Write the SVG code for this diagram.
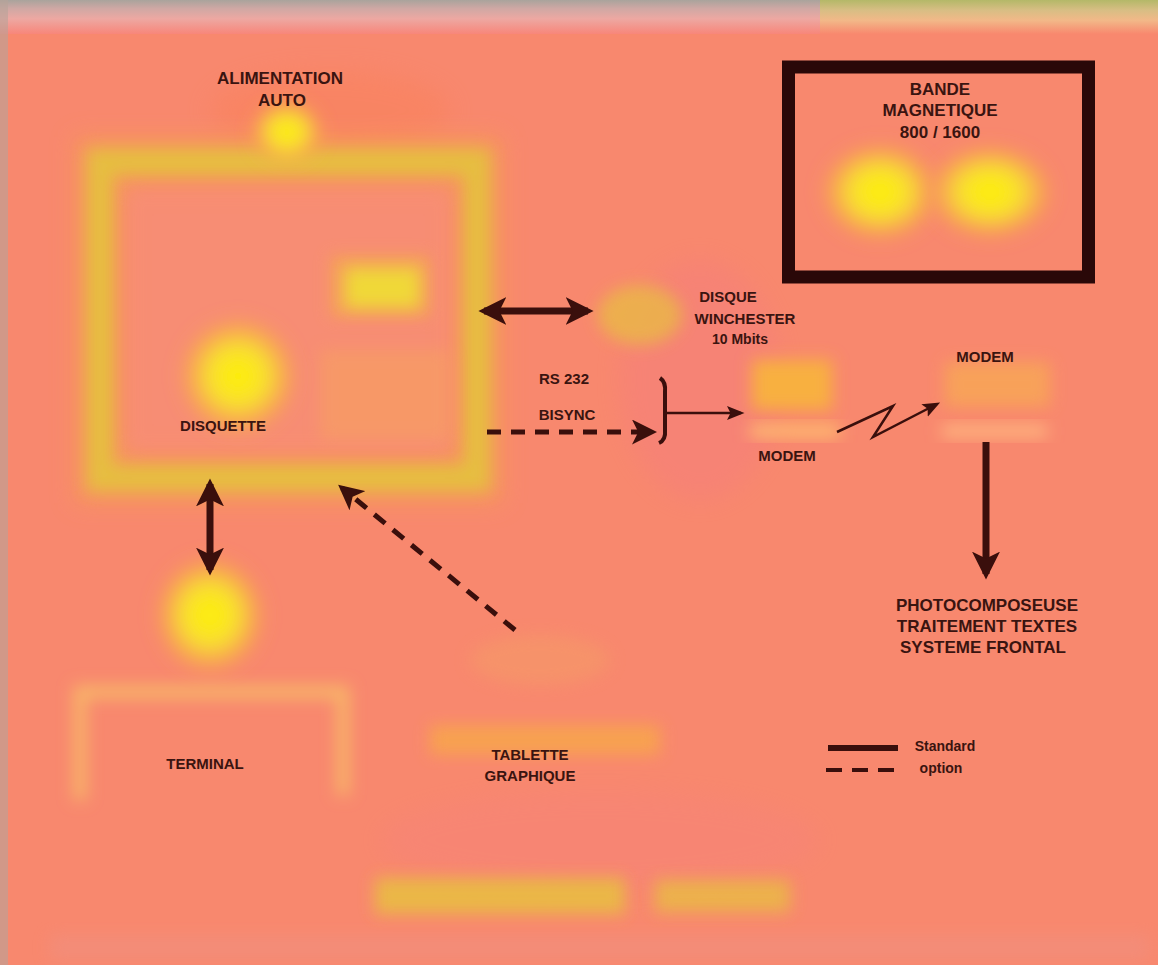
<svg xmlns="http://www.w3.org/2000/svg" width="1158" height="965" viewBox="0 0 1158 965">
  <defs>
    <filter id="soft" x="-50%" y="-50%" width="200%" height="200%">
      <feGaussianBlur stdDeviation="8"/>
    </filter>
    <filter id="softer" x="-50%" y="-50%" width="200%" height="200%">
      <feGaussianBlur stdDeviation="12"/>
    </filter>
    <radialGradient id="glow">
      <stop offset="0" stop-color="#FFF000"/>
      <stop offset="0.45" stop-color="#F8E030"/>
      <stop offset="0.75" stop-color="#F8B048" stop-opacity="0.8"/>
      <stop offset="1" stop-color="#F8A050" stop-opacity="0"/>
    </radialGradient>
    <linearGradient id="topband" x1="0" y1="0" x2="0" y2="1">
      <stop offset="0" stop-color="#A9A39C"/>
      <stop offset="0.25" stop-color="#CFA8A4"/>
      <stop offset="0.55" stop-color="#EDA8A2"/>
      <stop offset="1" stop-color="#F8867A"/>
    </linearGradient>
    <linearGradient id="topbandRight" x1="0" y1="0" x2="0" y2="1">
      <stop offset="0" stop-color="#B4B868"/>
      <stop offset="0.3" stop-color="#D8BE84"/>
      <stop offset="0.6" stop-color="#F2B888"/>
      <stop offset="1" stop-color="#F8886E"/>
    </linearGradient>
    <marker id="head" viewBox="0 0 10 10" refX="8" refY="5" markerWidth="4" markerHeight="4" orient="auto-start-reverse" markerUnits="strokeWidth">
      <path d="M0,0 L10,5 L0,10 L2.5,5 Z" fill="#3A0F0C"/>
    </marker>
    <marker id="headThin" viewBox="0 0 10 10" refX="8" refY="5" markerWidth="7" markerHeight="7" orient="auto-start-reverse" markerUnits="strokeWidth">
      <path d="M0,1 L10,5 L0,9 L2,5 Z" fill="#3A0F0C"/>
    </marker>
    <marker id="headDash" viewBox="0 0 10 10" refX="8" refY="5" markerWidth="5" markerHeight="5" orient="auto-start-reverse" markerUnits="strokeWidth">
      <path d="M0,0 L10,5 L0,10 L2.5,5 Z" fill="#3A0F0C"/>
    </marker>
  </defs>
  <style>
    text { font-family: "Liberation Sans Narrow", "Liberation Sans", Arial, sans-serif; font-weight: bold; fill: #3A1410; text-anchor: middle; }
    .lbl { font-size: 17px; }
    .sm { font-size: 15px; }
    .conn { stroke: #3A0F0C; fill: none; }
    .solid { stroke-width: 7; }
    .dash { stroke-width: 5; stroke-dasharray: 14 10; }
    .thin { stroke-width: 2.5; }
    .frame { fill: none; stroke: #E6BE40; filter: url(#soft); }
    .blob { fill: url(#glow); filter: url(#soft); }
  </style>

  <!-- paper background -->
  <rect x="0" y="0" width="1158" height="965" fill="#F8886E"/>
  <rect x="0" y="0" width="1158" height="34" fill="url(#topband)"/>
  <rect x="820" y="0" width="338" height="34" fill="url(#topbandRight)"/>
  <rect x="0" y="0" width="8" height="965" fill="#B8A49A" opacity="0.6"/>
  <ellipse cx="330" cy="110" rx="120" ry="40" fill="#FA7F55" opacity="0.4" filter="url(#softer)"/>
  <ellipse cx="700" cy="380" rx="80" ry="120" fill="#F47C80" opacity="0.4" filter="url(#softer)"/>
  <ellipse cx="600" cy="840" rx="220" ry="50" fill="#F58080" opacity="0.3" filter="url(#softer)"/>

  <!-- processor unit -->
  <g id="unite-centrale">
    <rect x="100" y="162" width="377" height="316" fill="none" stroke="#F4A050" stroke-width="50" opacity="0.6" filter="url(#softer)"/>
    <rect class="frame" x="100" y="162" width="377" height="316" stroke-width="26"/>
    <rect x="126" y="188" width="326" height="264" fill="#F7927A" opacity="0.5" filter="url(#soft)"/>
    <ellipse class="blob" cx="287" cy="132" rx="38" ry="34"/>
    <rect x="330" y="255" width="100" height="62" fill="#F4A850" opacity="0.7" filter="url(#soft)"/>
    <rect x="345" y="268" width="75" height="40" fill="#F0D838" filter="url(#soft)"/>
    <rect x="320" y="350" width="130" height="90" fill="#F7A060" opacity="0.6" filter="url(#soft)"/>
    <ellipse class="blob" cx="238" cy="376" rx="62" ry="62"/>
    <text class="lbl" x="280" y="84">ALIMENTATION</text>
    <text class="lbl" x="282" y="106">AUTO</text>
    <text class="sm" x="223" y="431">DISQUETTE</text>
  </g>

  <!-- magnetic tape -->
  <g id="bande-magnetique">
    <rect x="788.5" y="67" width="300" height="210" fill="none" stroke="#2A0808" stroke-width="13"/>
    <ellipse class="blob" cx="880" cy="192" rx="62" ry="52"/>
    <ellipse class="blob" cx="990" cy="192" rx="66" ry="50"/>
    <text class="lbl" x="940" y="95">BANDE</text>
    <text class="lbl" x="940" y="116">MAGNETIQUE</text>
    <text class="lbl" x="940" y="138">800 / 1600</text>
  </g>

  <!-- Winchester disk -->
  <g id="disque-winchester">
    <ellipse cx="640" cy="315" rx="42" ry="30" fill="#E8C040" opacity="0.7" filter="url(#soft)"/>
    <text class="sm" x="728" y="302">DISQUE</text>
    <text class="sm" x="745" y="324">WINCHESTER</text>
    <text class="sm" x="740" y="344" style="font-size:14px">10 Mbits</text>
  </g>

  <!-- local modem -->
  <g id="modem-local">
    <rect x="752" y="360" width="80" height="50" fill="#F8B040" filter="url(#soft)"/>
    <rect x="750" y="425" width="90" height="12" fill="#FFC070" filter="url(#soft)"/>
    <text class="sm" x="787" y="461">MODEM</text>
  </g>

  <!-- remote modem -->
  <g id="modem-distant">
    <rect x="945" y="362" width="105" height="45" fill="#F8A855" opacity="0.8" filter="url(#soft)"/>
    <rect x="942" y="425" width="105" height="12" fill="#FFB880" filter="url(#soft)"/>
    <text class="sm" x="985" y="362">MODEM</text>
  </g>

  <!-- typesetter -->
  <g id="photocomposeuse">
    <text class="lbl" x="987" y="611">PHOTOCOMPOSEUSE</text>
    <text class="lbl" x="987" y="632">TRAITEMENT TEXTES</text>
    <text class="lbl" x="983" y="653">SYSTEME FRONTAL</text>
  </g>

  <!-- terminal -->
  <g id="terminal">
    <ellipse class="blob" cx="210" cy="615" rx="58" ry="62"/>
    <path d="M80,800 L80,692 L343,692 L343,795" fill="none" stroke="#F8B868" stroke-width="12" filter="url(#soft)"/>
    <text class="sm" x="205" y="769">TERMINAL</text>
  </g>

  <!-- graphics tablet -->
  <g id="tablette-graphique">
    <rect x="430" y="725" width="230" height="30" fill="#F8A848" opacity="0.8" filter="url(#soft)"/>
    <ellipse cx="540" cy="660" rx="70" ry="25" fill="#F59A68" opacity="0.6" filter="url(#soft)"/>
    <text class="sm" x="530" y="760">TABLETTE</text>
    <text class="sm" x="530" y="781">GRAPHIQUE</text>
  </g>

  <!-- bottom of bench -->
  <g id="socle">
    <rect x="375" y="878" width="250" height="36" fill="#E8C040" opacity="0.85" filter="url(#soft)"/>
    <rect x="655" y="880" width="135" height="32" fill="#E8C040" opacity="0.75" filter="url(#soft)"/>
    <rect x="50" y="935" width="1100" height="25" fill="#F09080" opacity="0.6" filter="url(#soft)"/>
  </g>

  <!-- connectors -->
  <g id="connecteurs">
    <line class="conn solid" x1="484" y1="311" x2="588" y2="311" marker-start="url(#head)" marker-end="url(#head)"/>
    <line class="conn solid" x1="210" y1="484" x2="210" y2="570" marker-start="url(#head)" marker-end="url(#head)"/>
    <line class="conn dash" x1="515" y1="630" x2="342" y2="488" marker-end="url(#headDash)"/>
    <line class="conn dash" x1="487" y1="432" x2="652" y2="432" marker-end="url(#headDash)"/>
    <path class="conn" d="M660,378 Q666,382 665,392 L665,430 Q666,440 659,443" stroke-width="4"/>
    <line class="conn thin" x1="666" y1="413" x2="741" y2="413" marker-end="url(#headThin)"/>
    <path class="conn thin" d="M837,432 L893,406 L873,437 L937,404" marker-end="url(#headThin)"/>
    <line class="conn solid" x1="986" y1="442" x2="986" y2="574" marker-end="url(#head)"/>
  </g>

  <!-- labels on the serial link -->
  <g id="liaison-serie">
    <text class="sm" x="564" y="384">RS 232</text>
    <text class="sm" x="567" y="420">BISYNC</text>
  </g>

  <!-- legend -->
  <g id="legende">
    <line class="conn" x1="828" y1="748" x2="898" y2="748" stroke-width="6"/>
    <line class="conn" x1="826" y1="770" x2="898" y2="770" stroke-width="4" stroke-dasharray="16 10"/>
    <text class="sm" x="945" y="751" style="font-size:14px">Standard</text>
    <text class="sm" x="941" y="773" style="font-size:14px">option</text>
  </g>
</svg>
